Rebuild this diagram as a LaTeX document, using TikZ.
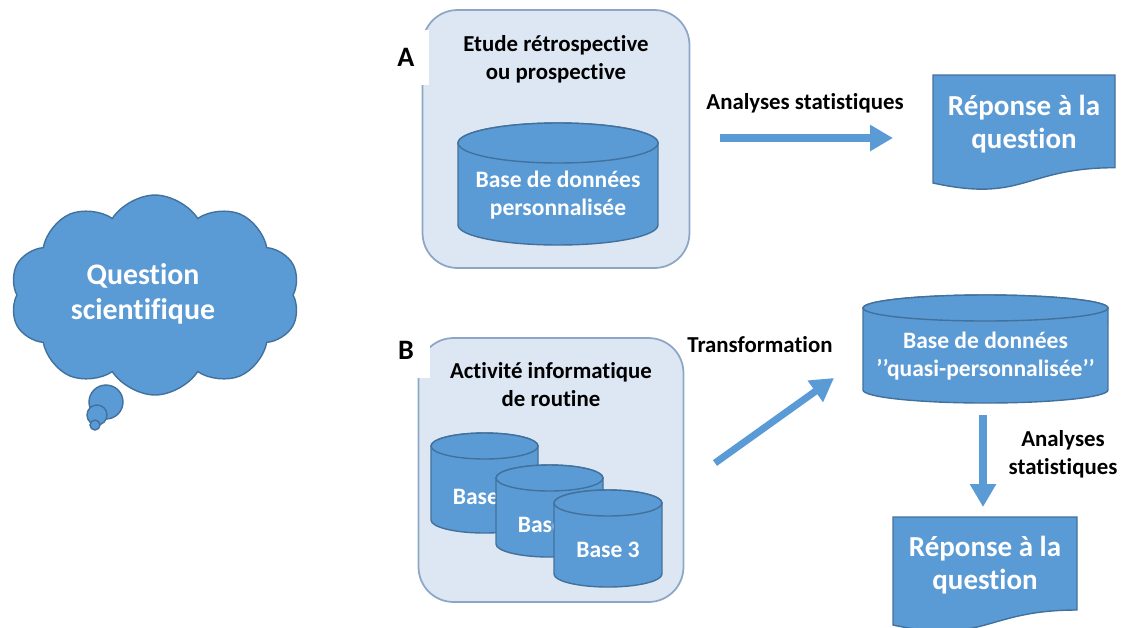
\documentclass[tikz,border=0pt]{standalone}
\usepackage{fontspec}
\setmainfont[Ligatures = NoCommon]{Carlito}
\usepackage{tikz}
\usetikzlibrary{arrows.meta}
\usetikzlibrary{shapes.symbols}

\definecolor{dbfill}{HTML}{5B9BD5}
\definecolor{dbline}{HTML}{41719C}
\definecolor{panelfill}{HTML}{DDE7F3}
\definecolor{panelline}{HTML}{8EA6C6}

\tikzset{
    panel/.style = {draw = panelline, fill = panelfill, line width = 1pt, rounded corners = 0.7cm},
    dbshape/.style = {draw = dbline, fill = dbfill, line width = 0.8pt},
    dbtext/.style = {text = white, font = \bfseries\fontsize{13.4}{16}\selectfont, align = center},
    bigtext/.style = {text = white, font = \bfseries\fontsize{16.5}{18.5}\selectfont, align = center},
    lbl/.style = {font = \bfseries\fontsize{13}{16}\selectfont, align = center},
    tag/.style = {fill = white, font = \bfseries\fontsize{16}{18}\selectfont},
    flow/.style = {line width = 4pt, draw = dbfill, -{Triangle[length = 0.46cm, width = 0.5cm]}}
}

\begin{document}
\begin{tikzpicture}[x = 0.02cm, y = -0.02cm]
        \useasboundingbox (0, 0) rectangle (1123, 627);
        % question
        \node [cloud, cloud puffs = 10, cloud puff arc = 115, aspect = 1.5, dbshape,
            minimum width = 5.8cm, minimum height = 4cm] (cloud) at (155, 295) {};
        \node [bigtext, font = \bfseries\fontsize{17}{20}\selectfont] (question) at (143, 294) {Question\\scientifique};
        \draw [dbshape] (106, 402) circle [radius = 17];
        \draw [dbshape] (97, 415) circle [radius = 10];
        \draw [dbshape] (95, 425) circle [radius = 5];
        % A
        \node [panel, minimum width = 5.34cm, minimum height = 5.16cm] (boxA) at (556, 139) {};
        \node [tag, minimum width = 0.94cm, minimum height = 1.1cm] (tagA) at (406, 57) {A};
        \node [lbl] (titleA) at (556, 59) {Etude rétrospective\\ou prospective};
        \draw [dbshape] (458, 143) -- (458, 225) arc [start angle = 180, end angle = 360, x radius = 2cm, y radius = 0.4cm]
            -- (658, 143) arc [start angle = 0, end angle = 180, x radius = 2cm, y radius = 0.4cm] -- cycle;
        \draw [dbshape] (558, 143) ellipse [x radius = 2cm, y radius = 0.4cm];
        \node [dbtext] (dbA) at (558, 195) {Base de données\\personnalisée};
        \draw [dbshape]
            (1115, 75) -- (1115, 167.7) .. controls (1024, 167.7) and (1024, 203) .. (933, 183) -- (933, 75) -- cycle;
        \node [bigtext] (repA) at (1024, 124) {Réponse à la\\question};
        \coordinate (a0) at (720, 138);
        \coordinate (a1) at (893, 138);
        \draw [flow] (a0) -- (a1);
        \node [lbl] (statA) at (805, 103) {Analyses statistiques};
        % B
        \node [panel, minimum width = 5.3cm, minimum height = 5.28cm] (boxB) at (551, 470) {};
        \node [tag, minimum width = 0.96cm, minimum height = 1.12cm] (tagB) at (406, 350) {B};
        \node [lbl] (titleB) at (551, 385) {Activité informatique\\de routine};
        \draw [dbshape] (431, 446) -- (431, 520) arc [start angle = 180, end angle = 360, x radius = 1.07cm, y radius = 0.26cm]
            -- (538, 446) arc [start angle = 0, end angle = 180, x radius = 1.07cm, y radius = 0.26cm] -- cycle;
        \draw [dbshape] (484.5, 446) ellipse [x radius = 1.07cm, y radius = 0.26cm];
        \node [dbtext] (base1) at (484.5, 497) {Base 1};
        \draw [dbshape] (496, 478) -- (496, 544) arc [start angle = 180, end angle = 360, x radius = 1.07cm, y radius = 0.26cm]
            -- (603, 478) arc [start angle = 0, end angle = 180, x radius = 1.07cm, y radius = 0.26cm] -- cycle;
        \draw [dbshape] (549.5, 478) ellipse [x radius = 1.07cm, y radius = 0.26cm];
        \node [dbtext] (base2) at (549.5, 525) {Base 2};
        \draw [dbshape] (554, 503) -- (554, 574) arc [start angle = 180, end angle = 360, x radius = 1.08cm, y radius = 0.26cm]
            -- (662, 503) arc [start angle = 0, end angle = 180, x radius = 1.08cm, y radius = 0.26cm] -- cycle;
        \draw [dbshape] (608, 503) ellipse [x radius = 1.08cm, y radius = 0.26cm];
        \node [dbtext] (base3) at (608, 550) {Base 3};
        \coordinate (t0) at (715, 463);
        \coordinate (t1) at (834, 378);
        \draw [flow] (t0) -- (t1);
        \node [lbl] (trans) at (760, 345) {Transformation};
        \draw [dbshape] (863, 308) -- (863, 390) arc [start angle = 180, end angle = 360, x radius = 2.45cm, y radius = 0.26cm]
            -- (1108, 308) arc [start angle = 0, end angle = 180, x radius = 2.45cm, y radius = 0.26cm] -- cycle;
        \draw [dbshape] (985.5, 308) ellipse [x radius = 2.45cm, y radius = 0.26cm];
        \node [dbtext] (quasi) at (985.5, 356) {Base de données\\’’quasi-personnalisée’’};
        \coordinate (d0) at (983, 415);
        \coordinate (d1) at (983, 507);
        \draw [flow] (d0) -- (d1);
        \node [lbl] (statB) at (1063, 454) {Analyses\\statistiques};
        \draw [dbshape]
            (1077, 517) -- (1077, 610) .. controls (985, 610) and (985, 645) .. (893, 625) -- (893, 517) -- cycle;
        \node [bigtext] (repB) at (985, 565) {Réponse à la\\question};
    \end{tikzpicture}
\end{document}
